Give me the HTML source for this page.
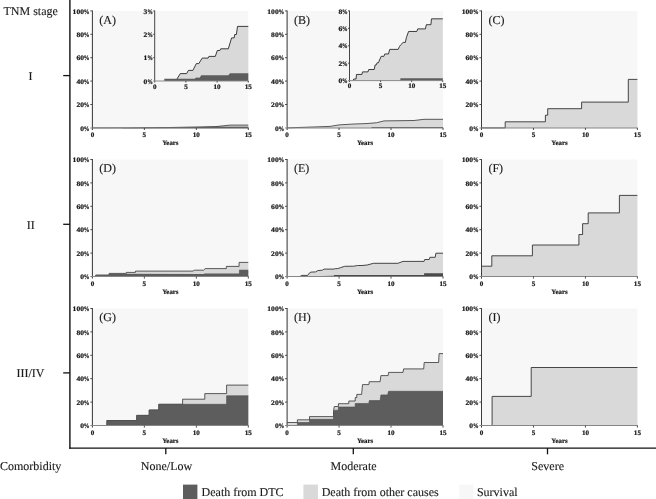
<!DOCTYPE html>
<html><head><meta charset="utf-8"><title>Cumulative incidence of death by TNM stage and comorbidity</title>
<style>
html,body{margin:0;padding:0;background:#fff;}
body{width:656px;height:499px;overflow:hidden;font-family:"Liberation Serif",serif;}
svg{display:block;filter:grayscale(1);}
text{font-family:"Liberation Serif",serif;fill:#1a1a1a;text-rendering:geometricPrecision;}
.t{font-size:6.9px;font-weight:bold;stroke:#1a1a1a;stroke-width:0.22px;}
.y{font-size:6.85px;font-weight:bold;stroke:#1a1a1a;stroke-width:0.2px;}
.p{font-size:12px;stroke:#1a1a1a;stroke-width:0.12px;}
.b{font-size:12px;stroke:#1a1a1a;stroke-width:0.12px;}
</style></head><body>
<svg width="656" height="499" viewBox="0 0 656 499">
<rect x="0" y="0" width="656" height="499" fill="#ffffff"/>
<rect x="92.40" y="10.90" width="155.90" height="117.00" fill="#f7f7f7"/>
<path d="M92.40,127.90 L130.40,127.85 L170.00,127.50 L216.00,126.60 L230.00,125.10 L248.30,125.10 L248.30,127.90 L92.40,127.90 Z" fill="#d9d9d9" stroke="none"/>
<path d="M92.40,127.90 L130.40,127.85 L170.00,127.50 L216.00,126.60 L230.00,125.10 L248.30,125.10" fill="none" stroke="#333" stroke-width="0.8" stroke-linejoin="miter"/>
<path d="M122.40,127.90 L170.00,127.40 L216.00,126.70 L248.30,126.70 L248.30,128.20 L122.40,128.20 Z" fill="#3a3a3a" stroke="none"/>
<line x1="92.40" y1="10.50" x2="92.40" y2="130.00" stroke="#3c3c3c" stroke-width="1.05"/>
<line x1="90.30" y1="127.90" x2="248.60" y2="127.90" stroke="#868686" stroke-width="1.05"/>
<text transform="translate(89.50,130.50) scale(0.82,1)" text-anchor="end" class="t">%</text>
<text transform="translate(83.99,130.50) scale(1.1,1)" text-anchor="end" class="t">0</text>
<line x1="90.30" y1="104.50" x2="92.40" y2="104.50" stroke="#3c3c3c" stroke-width="0.9"/>
<text transform="translate(89.50,107.10) scale(0.82,1)" text-anchor="end" class="t">%</text>
<text transform="translate(83.99,107.10) scale(1.1,1)" text-anchor="end" class="t">20</text>
<line x1="90.30" y1="81.10" x2="92.40" y2="81.10" stroke="#3c3c3c" stroke-width="0.9"/>
<text transform="translate(89.50,83.70) scale(0.82,1)" text-anchor="end" class="t">%</text>
<text transform="translate(83.99,83.70) scale(1.1,1)" text-anchor="end" class="t">40</text>
<line x1="90.30" y1="57.70" x2="92.40" y2="57.70" stroke="#3c3c3c" stroke-width="0.9"/>
<text transform="translate(89.50,60.30) scale(0.82,1)" text-anchor="end" class="t">%</text>
<text transform="translate(83.99,60.30) scale(1.1,1)" text-anchor="end" class="t">60</text>
<line x1="90.30" y1="34.30" x2="92.40" y2="34.30" stroke="#3c3c3c" stroke-width="0.9"/>
<text transform="translate(89.50,36.90) scale(0.82,1)" text-anchor="end" class="t">%</text>
<text transform="translate(83.99,36.90) scale(1.1,1)" text-anchor="end" class="t">80</text>
<line x1="90.30" y1="10.90" x2="92.40" y2="10.90" stroke="#3c3c3c" stroke-width="0.9"/>
<text transform="translate(89.50,13.50) scale(0.82,1)" text-anchor="end" class="t">%</text>
<text transform="translate(83.99,13.50) scale(1.1,1)" text-anchor="end" class="t">100</text>
<text transform="translate(92.40,137.00) scale(1.03,1)" text-anchor="middle" class="t">0</text>
<line x1="144.37" y1="127.90" x2="144.37" y2="130.00" stroke="#3c3c3c" stroke-width="0.9"/>
<text transform="translate(144.37,137.00) scale(1.03,1)" text-anchor="middle" class="t">5</text>
<line x1="196.33" y1="127.90" x2="196.33" y2="130.00" stroke="#3c3c3c" stroke-width="0.9"/>
<text transform="translate(196.33,137.00) scale(1.03,1)" text-anchor="middle" class="t">10</text>
<line x1="248.30" y1="127.90" x2="248.30" y2="130.00" stroke="#3c3c3c" stroke-width="0.9"/>
<text transform="translate(248.30,137.00) scale(1.03,1)" text-anchor="middle" class="t">15</text>
<text x="170.35" y="145.25" text-anchor="middle" class="y">Years</text>
<text x="99.30" y="23.70" class="p">(A)</text>
<path d="M176.90,81.00 L176.90,79.10 L180.30,73.60 L186.70,73.60 L188.40,70.40 L192.90,70.40 L196.30,63.60 L198.80,63.60 L202.20,58.10 L208.10,58.10 L208.90,56.40 L215.30,56.40 L217.30,50.50 L219.90,50.50 L220.70,48.80 L228.30,48.80 L231.60,37.90 L234.20,37.90 L234.70,34.50 L236.40,34.50 L237.50,26.40 L248.30,26.40 L248.30,81.00 L176.90,81.00 Z" fill="#d9d9d9" stroke="none"/>
<path d="M176.90,81.00 L176.90,79.10 L180.30,73.60 L186.70,73.60 L188.40,70.40 L192.90,70.40 L196.30,63.60 L198.80,63.60 L202.20,58.10 L208.10,58.10 L208.90,56.40 L215.30,56.40 L217.30,50.50 L219.90,50.50 L220.70,48.80 L228.30,48.80 L231.60,37.90 L234.20,37.90 L234.70,34.50 L236.40,34.50 L237.50,26.40 L248.30,26.40" fill="none" stroke="#333" stroke-width="0.95" stroke-linejoin="miter"/>
<path d="M164.30,81.00 L164.30,78.70 L194.60,78.70 L196.30,77.50 L199.50,77.80 L201.30,75.30 L228.30,75.30 L230.00,73.20 L248.30,73.20 L248.30,81.00 L164.30,81.00 Z" fill="#5d5d5d" stroke="none"/>
<line x1="154.70" y1="10.50" x2="154.70" y2="82.50" stroke="#3c3c3c" stroke-width="0.95"/>
<line x1="153.20" y1="81.00" x2="248.60" y2="81.00" stroke="#868686" stroke-width="0.95"/>
<text transform="translate(152.90,83.60) scale(0.82,1)" text-anchor="end" class="t">%</text>
<text transform="translate(147.39,83.60) scale(1.1,1)" text-anchor="end" class="t">0</text>
<line x1="153.20" y1="57.63" x2="154.70" y2="57.63" stroke="#3c3c3c" stroke-width="0.9"/>
<text transform="translate(152.90,60.23) scale(0.82,1)" text-anchor="end" class="t">%</text>
<text transform="translate(147.39,60.23) scale(1.1,1)" text-anchor="end" class="t">1</text>
<line x1="153.20" y1="34.27" x2="154.70" y2="34.27" stroke="#3c3c3c" stroke-width="0.9"/>
<text transform="translate(152.90,36.87) scale(0.82,1)" text-anchor="end" class="t">%</text>
<text transform="translate(147.39,36.87) scale(1.1,1)" text-anchor="end" class="t">2</text>
<line x1="153.20" y1="10.90" x2="154.70" y2="10.90" stroke="#3c3c3c" stroke-width="0.9"/>
<text transform="translate(152.90,13.50) scale(0.82,1)" text-anchor="end" class="t">%</text>
<text transform="translate(147.39,13.50) scale(1.1,1)" text-anchor="end" class="t">3</text>
<text transform="translate(154.70,88.70) scale(1.03,1)" text-anchor="middle" class="t">0</text>
<line x1="185.90" y1="81.00" x2="185.90" y2="82.50" stroke="#3c3c3c" stroke-width="0.9"/>
<text transform="translate(185.90,88.70) scale(1.03,1)" text-anchor="middle" class="t">5</text>
<line x1="217.10" y1="81.00" x2="217.10" y2="82.50" stroke="#3c3c3c" stroke-width="0.9"/>
<text transform="translate(217.10,88.70) scale(1.03,1)" text-anchor="middle" class="t">10</text>
<line x1="248.30" y1="81.00" x2="248.30" y2="82.50" stroke="#3c3c3c" stroke-width="0.9"/>
<text transform="translate(248.30,88.70) scale(1.03,1)" text-anchor="middle" class="t">15</text>
<rect x="287.10" y="10.90" width="155.90" height="117.00" fill="#f7f7f7"/>
<path d="M287.10,127.90 L330.00,126.40 L339.00,124.90 L354.00,124.00 L366.00,123.60 L376.50,122.75 L384.00,120.90 L414.00,120.50 L424.00,119.30 L443.00,119.30 L443.00,127.90 L287.10,127.90 Z" fill="#d9d9d9" stroke="none"/>
<path d="M287.10,127.90 L330.00,126.40 L339.00,124.90 L354.00,124.00 L366.00,123.60 L376.50,122.75 L384.00,120.90 L414.00,120.50 L424.00,119.30 L443.00,119.30" fill="none" stroke="#333" stroke-width="0.8" stroke-linejoin="miter"/>
<path d="M371.50,127.00 L443.00,126.90 L443.00,127.90 L371.50,127.90 Z" fill="#5d5d5d" stroke="none"/>
<line x1="287.10" y1="10.50" x2="287.10" y2="130.00" stroke="#3c3c3c" stroke-width="1.05"/>
<line x1="285.00" y1="127.90" x2="443.30" y2="127.90" stroke="#868686" stroke-width="1.05"/>
<text transform="translate(284.20,130.50) scale(0.82,1)" text-anchor="end" class="t">%</text>
<text transform="translate(278.69,130.50) scale(1.1,1)" text-anchor="end" class="t">0</text>
<line x1="285.00" y1="104.50" x2="287.10" y2="104.50" stroke="#3c3c3c" stroke-width="0.9"/>
<text transform="translate(284.20,107.10) scale(0.82,1)" text-anchor="end" class="t">%</text>
<text transform="translate(278.69,107.10) scale(1.1,1)" text-anchor="end" class="t">20</text>
<line x1="285.00" y1="81.10" x2="287.10" y2="81.10" stroke="#3c3c3c" stroke-width="0.9"/>
<text transform="translate(284.20,83.70) scale(0.82,1)" text-anchor="end" class="t">%</text>
<text transform="translate(278.69,83.70) scale(1.1,1)" text-anchor="end" class="t">40</text>
<line x1="285.00" y1="57.70" x2="287.10" y2="57.70" stroke="#3c3c3c" stroke-width="0.9"/>
<text transform="translate(284.20,60.30) scale(0.82,1)" text-anchor="end" class="t">%</text>
<text transform="translate(278.69,60.30) scale(1.1,1)" text-anchor="end" class="t">60</text>
<line x1="285.00" y1="34.30" x2="287.10" y2="34.30" stroke="#3c3c3c" stroke-width="0.9"/>
<text transform="translate(284.20,36.90) scale(0.82,1)" text-anchor="end" class="t">%</text>
<text transform="translate(278.69,36.90) scale(1.1,1)" text-anchor="end" class="t">80</text>
<line x1="285.00" y1="10.90" x2="287.10" y2="10.90" stroke="#3c3c3c" stroke-width="0.9"/>
<text transform="translate(284.20,13.50) scale(0.82,1)" text-anchor="end" class="t">%</text>
<text transform="translate(278.69,13.50) scale(1.1,1)" text-anchor="end" class="t">100</text>
<text transform="translate(287.10,137.00) scale(1.03,1)" text-anchor="middle" class="t">0</text>
<line x1="339.07" y1="127.90" x2="339.07" y2="130.00" stroke="#3c3c3c" stroke-width="0.9"/>
<text transform="translate(339.07,137.00) scale(1.03,1)" text-anchor="middle" class="t">5</text>
<line x1="391.03" y1="127.90" x2="391.03" y2="130.00" stroke="#3c3c3c" stroke-width="0.9"/>
<text transform="translate(391.03,137.00) scale(1.03,1)" text-anchor="middle" class="t">10</text>
<line x1="443.00" y1="127.90" x2="443.00" y2="130.00" stroke="#3c3c3c" stroke-width="0.9"/>
<text transform="translate(443.00,137.00) scale(1.03,1)" text-anchor="middle" class="t">15</text>
<text x="365.05" y="145.25" text-anchor="middle" class="y">Years</text>
<text x="294.00" y="23.70" class="p">(B)</text>
<path d="M353.17,80.48 L353.72,79.02 L356.10,79.02 L356.46,74.45 L361.95,74.45 L362.50,71.89 L367.99,71.89 L368.72,69.51 L374.21,69.51 L375.12,64.94 L376.22,64.94 L377.13,62.74 L378.41,62.74 L381.16,56.34 L383.90,56.34 L384.81,53.96 L388.47,53.96 L389.75,49.39 L398.17,49.39 L399.45,46.64 L400.73,44.81 L403.11,42.44 L405.30,42.44 L406.40,37.50 L408.59,31.46 L416.82,31.46 L417.74,28.90 L425.42,28.90 L426.34,24.69 L430.91,24.69 L431.46,18.84 L442.80,18.84 L442.80,80.60 L353.17,80.60 Z" fill="#d9d9d9" stroke="none"/>
<path d="M353.17,80.48 L353.72,79.02 L356.10,79.02 L356.46,74.45 L361.95,74.45 L362.50,71.89 L367.99,71.89 L368.72,69.51 L374.21,69.51 L375.12,64.94 L376.22,64.94 L377.13,62.74 L378.41,62.74 L381.16,56.34 L383.90,56.34 L384.81,53.96 L388.47,53.96 L389.75,49.39 L398.17,49.39 L399.45,46.64 L400.73,44.81 L403.11,42.44 L405.30,42.44 L406.40,37.50 L408.59,31.46 L416.82,31.46 L417.74,28.90 L425.42,28.90 L426.34,24.69 L430.91,24.69 L431.46,18.84 L442.80,18.84" fill="none" stroke="#333" stroke-width="0.95" stroke-linejoin="miter"/>
<path d="M400.36,80.67 L400.36,78.20 L442.80,78.20 L442.80,80.60 L400.36,80.60 Z" fill="#5d5d5d" stroke="none"/>
<line x1="349.50" y1="10.50" x2="349.50" y2="82.10" stroke="#3c3c3c" stroke-width="0.95"/>
<line x1="348.00" y1="80.60" x2="443.10" y2="80.60" stroke="#868686" stroke-width="0.95"/>
<text transform="translate(347.70,83.20) scale(0.82,1)" text-anchor="end" class="t">%</text>
<text transform="translate(342.19,83.20) scale(1.1,1)" text-anchor="end" class="t">0</text>
<line x1="348.00" y1="63.17" x2="349.50" y2="63.17" stroke="#3c3c3c" stroke-width="0.9"/>
<text transform="translate(347.70,65.77) scale(0.82,1)" text-anchor="end" class="t">%</text>
<text transform="translate(342.19,65.77) scale(1.1,1)" text-anchor="end" class="t">2</text>
<line x1="348.00" y1="45.75" x2="349.50" y2="45.75" stroke="#3c3c3c" stroke-width="0.9"/>
<text transform="translate(347.70,48.35) scale(0.82,1)" text-anchor="end" class="t">%</text>
<text transform="translate(342.19,48.35) scale(1.1,1)" text-anchor="end" class="t">4</text>
<line x1="348.00" y1="28.33" x2="349.50" y2="28.33" stroke="#3c3c3c" stroke-width="0.9"/>
<text transform="translate(347.70,30.93) scale(0.82,1)" text-anchor="end" class="t">%</text>
<text transform="translate(342.19,30.93) scale(1.1,1)" text-anchor="end" class="t">6</text>
<line x1="348.00" y1="10.90" x2="349.50" y2="10.90" stroke="#3c3c3c" stroke-width="0.9"/>
<text transform="translate(347.70,13.50) scale(0.82,1)" text-anchor="end" class="t">%</text>
<text transform="translate(342.19,13.50) scale(1.1,1)" text-anchor="end" class="t">8</text>
<text transform="translate(349.50,88.30) scale(1.03,1)" text-anchor="middle" class="t">0</text>
<line x1="380.60" y1="80.60" x2="380.60" y2="82.10" stroke="#3c3c3c" stroke-width="0.9"/>
<text transform="translate(380.60,88.30) scale(1.03,1)" text-anchor="middle" class="t">5</text>
<line x1="411.70" y1="80.60" x2="411.70" y2="82.10" stroke="#3c3c3c" stroke-width="0.9"/>
<text transform="translate(411.70,88.30) scale(1.03,1)" text-anchor="middle" class="t">10</text>
<line x1="442.80" y1="80.60" x2="442.80" y2="82.10" stroke="#3c3c3c" stroke-width="0.9"/>
<text transform="translate(442.80,88.30) scale(1.03,1)" text-anchor="middle" class="t">15</text>
<rect x="481.50" y="10.90" width="155.90" height="117.00" fill="#f7f7f7"/>
<path d="M481.50,127.90 L505.20,127.90 L505.20,121.80 L545.40,121.80 L545.40,115.20 L547.70,115.20 L547.70,108.70 L581.60,108.70 L581.60,102.10 L628.30,102.10 L628.30,79.40 L637.40,79.40 L637.40,127.90 L481.50,127.90 Z" fill="#d9d9d9" stroke="none"/>
<path d="M481.50,127.90 L505.20,127.90 L505.20,121.80 L545.40,121.80 L545.40,115.20 L547.70,115.20 L547.70,108.70 L581.60,108.70 L581.60,102.10 L628.30,102.10 L628.30,79.40 L637.40,79.40" fill="none" stroke="#333" stroke-width="0.9" stroke-linejoin="miter"/>
<line x1="481.50" y1="10.50" x2="481.50" y2="130.00" stroke="#3c3c3c" stroke-width="1.05"/>
<line x1="479.40" y1="127.90" x2="637.70" y2="127.90" stroke="#868686" stroke-width="1.05"/>
<text transform="translate(478.60,130.50) scale(0.82,1)" text-anchor="end" class="t">%</text>
<text transform="translate(473.09,130.50) scale(1.1,1)" text-anchor="end" class="t">0</text>
<line x1="479.40" y1="104.50" x2="481.50" y2="104.50" stroke="#3c3c3c" stroke-width="0.9"/>
<text transform="translate(478.60,107.10) scale(0.82,1)" text-anchor="end" class="t">%</text>
<text transform="translate(473.09,107.10) scale(1.1,1)" text-anchor="end" class="t">20</text>
<line x1="479.40" y1="81.10" x2="481.50" y2="81.10" stroke="#3c3c3c" stroke-width="0.9"/>
<text transform="translate(478.60,83.70) scale(0.82,1)" text-anchor="end" class="t">%</text>
<text transform="translate(473.09,83.70) scale(1.1,1)" text-anchor="end" class="t">40</text>
<line x1="479.40" y1="57.70" x2="481.50" y2="57.70" stroke="#3c3c3c" stroke-width="0.9"/>
<text transform="translate(478.60,60.30) scale(0.82,1)" text-anchor="end" class="t">%</text>
<text transform="translate(473.09,60.30) scale(1.1,1)" text-anchor="end" class="t">60</text>
<line x1="479.40" y1="34.30" x2="481.50" y2="34.30" stroke="#3c3c3c" stroke-width="0.9"/>
<text transform="translate(478.60,36.90) scale(0.82,1)" text-anchor="end" class="t">%</text>
<text transform="translate(473.09,36.90) scale(1.1,1)" text-anchor="end" class="t">80</text>
<line x1="479.40" y1="10.90" x2="481.50" y2="10.90" stroke="#3c3c3c" stroke-width="0.9"/>
<text transform="translate(478.60,13.50) scale(0.82,1)" text-anchor="end" class="t">%</text>
<text transform="translate(473.09,13.50) scale(1.1,1)" text-anchor="end" class="t">100</text>
<text transform="translate(481.50,137.00) scale(1.03,1)" text-anchor="middle" class="t">0</text>
<line x1="533.47" y1="127.90" x2="533.47" y2="130.00" stroke="#3c3c3c" stroke-width="0.9"/>
<text transform="translate(533.47,137.00) scale(1.03,1)" text-anchor="middle" class="t">5</text>
<line x1="585.43" y1="127.90" x2="585.43" y2="130.00" stroke="#3c3c3c" stroke-width="0.9"/>
<text transform="translate(585.43,137.00) scale(1.03,1)" text-anchor="middle" class="t">10</text>
<line x1="637.40" y1="127.90" x2="637.40" y2="130.00" stroke="#3c3c3c" stroke-width="0.9"/>
<text transform="translate(637.40,137.00) scale(1.03,1)" text-anchor="middle" class="t">15</text>
<text x="559.45" y="145.25" text-anchor="middle" class="y">Years</text>
<text x="488.40" y="23.70" class="p">(C)</text>
<rect x="92.40" y="159.50" width="155.90" height="117.00" fill="#f7f7f7"/>
<path d="M95.70,276.50 L95.70,275.00 L109.10,275.00 L109.10,273.40 L126.40,273.40 L126.40,272.40 L135.40,272.40 L135.40,271.10 L193.00,271.10 L194.30,270.20 L203.50,270.20 L205.20,268.60 L226.30,268.60 L226.30,266.40 L239.10,266.40 L239.10,262.40 L248.30,262.40 L248.30,276.50 L95.70,276.50 Z" fill="#d9d9d9" stroke="none"/>
<path d="M95.70,276.50 L95.70,275.00 L109.10,275.00 L109.10,273.40 L126.40,273.40 L126.40,272.40 L135.40,272.40 L135.40,271.10 L193.00,271.10 L194.30,270.20 L203.50,270.20 L205.20,268.60 L226.30,268.60 L226.30,266.40 L239.10,266.40 L239.10,262.40 L248.30,262.40" fill="none" stroke="#333" stroke-width="0.8" stroke-linejoin="miter"/>
<path d="M95.70,276.50 L95.70,275.00 L109.10,275.00 L109.10,273.70 L203.90,273.90 L204.60,273.40 L239.10,273.40 L239.10,269.80 L248.30,269.80 L248.30,276.50 L95.70,276.50 Z" fill="#5d5d5d" stroke="none"/>
<line x1="92.40" y1="159.10" x2="92.40" y2="278.60" stroke="#3c3c3c" stroke-width="1.05"/>
<line x1="90.30" y1="276.50" x2="248.60" y2="276.50" stroke="#868686" stroke-width="1.05"/>
<text transform="translate(89.50,279.10) scale(0.82,1)" text-anchor="end" class="t">%</text>
<text transform="translate(83.99,279.10) scale(1.1,1)" text-anchor="end" class="t">0</text>
<line x1="90.30" y1="253.10" x2="92.40" y2="253.10" stroke="#3c3c3c" stroke-width="0.9"/>
<text transform="translate(89.50,255.70) scale(0.82,1)" text-anchor="end" class="t">%</text>
<text transform="translate(83.99,255.70) scale(1.1,1)" text-anchor="end" class="t">20</text>
<line x1="90.30" y1="229.70" x2="92.40" y2="229.70" stroke="#3c3c3c" stroke-width="0.9"/>
<text transform="translate(89.50,232.30) scale(0.82,1)" text-anchor="end" class="t">%</text>
<text transform="translate(83.99,232.30) scale(1.1,1)" text-anchor="end" class="t">40</text>
<line x1="90.30" y1="206.30" x2="92.40" y2="206.30" stroke="#3c3c3c" stroke-width="0.9"/>
<text transform="translate(89.50,208.90) scale(0.82,1)" text-anchor="end" class="t">%</text>
<text transform="translate(83.99,208.90) scale(1.1,1)" text-anchor="end" class="t">60</text>
<line x1="90.30" y1="182.90" x2="92.40" y2="182.90" stroke="#3c3c3c" stroke-width="0.9"/>
<text transform="translate(89.50,185.50) scale(0.82,1)" text-anchor="end" class="t">%</text>
<text transform="translate(83.99,185.50) scale(1.1,1)" text-anchor="end" class="t">80</text>
<line x1="90.30" y1="159.50" x2="92.40" y2="159.50" stroke="#3c3c3c" stroke-width="0.9"/>
<text transform="translate(89.50,162.10) scale(0.82,1)" text-anchor="end" class="t">%</text>
<text transform="translate(83.99,162.10) scale(1.1,1)" text-anchor="end" class="t">100</text>
<text transform="translate(92.40,285.60) scale(1.03,1)" text-anchor="middle" class="t">0</text>
<line x1="144.37" y1="276.50" x2="144.37" y2="278.60" stroke="#3c3c3c" stroke-width="0.9"/>
<text transform="translate(144.37,285.60) scale(1.03,1)" text-anchor="middle" class="t">5</text>
<line x1="196.33" y1="276.50" x2="196.33" y2="278.60" stroke="#3c3c3c" stroke-width="0.9"/>
<text transform="translate(196.33,285.60) scale(1.03,1)" text-anchor="middle" class="t">10</text>
<line x1="248.30" y1="276.50" x2="248.30" y2="278.60" stroke="#3c3c3c" stroke-width="0.9"/>
<text transform="translate(248.30,285.60) scale(1.03,1)" text-anchor="middle" class="t">15</text>
<text x="170.35" y="293.85" text-anchor="middle" class="y">Years</text>
<text x="99.30" y="172.30" class="p">(D)</text>
<rect x="287.10" y="159.50" width="155.90" height="117.00" fill="#f7f7f7"/>
<path d="M299.90,276.50 L301.90,275.40 L307.60,275.40 L309.50,272.90 L311.00,272.10 L315.60,271.90 L317.90,270.60 L322.40,270.20 L324.00,269.10 L333.90,269.10 L335.40,268.60 L337.70,268.60 L340.70,267.60 L344.70,266.30 L353.70,266.20 L357.50,265.50 L362.00,265.50 L367.10,265.00 L373.50,263.30 L397.90,263.30 L403.00,261.40 L424.10,261.40 L424.70,259.50 L429.20,259.50 L429.90,257.30 L435.20,257.30 L435.90,253.20 L443.00,253.20 L443.00,276.50 L299.90,276.50 Z" fill="#d9d9d9" stroke="none"/>
<path d="M299.90,276.50 L301.90,275.40 L307.60,275.40 L309.50,272.90 L311.00,272.10 L315.60,271.90 L317.90,270.60 L322.40,270.20 L324.00,269.10 L333.90,269.10 L335.40,268.60 L337.70,268.60 L340.70,267.60 L344.70,266.30 L353.70,266.20 L357.50,265.50 L362.00,265.50 L367.10,265.00 L373.50,263.30 L397.90,263.30 L403.00,261.40 L424.10,261.40 L424.70,259.50 L429.20,259.50 L429.90,257.30 L435.20,257.30 L435.90,253.20 L443.00,253.20" fill="none" stroke="#333" stroke-width="0.9" stroke-linejoin="miter"/>
<path d="M322.40,276.50 L322.40,276.00 L333.90,275.80 L333.90,275.10 L424.10,275.10 L424.10,273.30 L443.00,273.30 L443.00,276.90 L322.40,276.90 Z" fill="#4a4a4a" stroke="none"/>
<line x1="287.10" y1="159.10" x2="287.10" y2="278.60" stroke="#3c3c3c" stroke-width="1.05"/>
<line x1="285.00" y1="276.50" x2="443.30" y2="276.50" stroke="#868686" stroke-width="1.05"/>
<text transform="translate(284.20,279.10) scale(0.82,1)" text-anchor="end" class="t">%</text>
<text transform="translate(278.69,279.10) scale(1.1,1)" text-anchor="end" class="t">0</text>
<line x1="285.00" y1="253.10" x2="287.10" y2="253.10" stroke="#3c3c3c" stroke-width="0.9"/>
<text transform="translate(284.20,255.70) scale(0.82,1)" text-anchor="end" class="t">%</text>
<text transform="translate(278.69,255.70) scale(1.1,1)" text-anchor="end" class="t">20</text>
<line x1="285.00" y1="229.70" x2="287.10" y2="229.70" stroke="#3c3c3c" stroke-width="0.9"/>
<text transform="translate(284.20,232.30) scale(0.82,1)" text-anchor="end" class="t">%</text>
<text transform="translate(278.69,232.30) scale(1.1,1)" text-anchor="end" class="t">40</text>
<line x1="285.00" y1="206.30" x2="287.10" y2="206.30" stroke="#3c3c3c" stroke-width="0.9"/>
<text transform="translate(284.20,208.90) scale(0.82,1)" text-anchor="end" class="t">%</text>
<text transform="translate(278.69,208.90) scale(1.1,1)" text-anchor="end" class="t">60</text>
<line x1="285.00" y1="182.90" x2="287.10" y2="182.90" stroke="#3c3c3c" stroke-width="0.9"/>
<text transform="translate(284.20,185.50) scale(0.82,1)" text-anchor="end" class="t">%</text>
<text transform="translate(278.69,185.50) scale(1.1,1)" text-anchor="end" class="t">80</text>
<line x1="285.00" y1="159.50" x2="287.10" y2="159.50" stroke="#3c3c3c" stroke-width="0.9"/>
<text transform="translate(284.20,162.10) scale(0.82,1)" text-anchor="end" class="t">%</text>
<text transform="translate(278.69,162.10) scale(1.1,1)" text-anchor="end" class="t">100</text>
<text transform="translate(287.10,285.60) scale(1.03,1)" text-anchor="middle" class="t">0</text>
<line x1="339.07" y1="276.50" x2="339.07" y2="278.60" stroke="#3c3c3c" stroke-width="0.9"/>
<text transform="translate(339.07,285.60) scale(1.03,1)" text-anchor="middle" class="t">5</text>
<line x1="391.03" y1="276.50" x2="391.03" y2="278.60" stroke="#3c3c3c" stroke-width="0.9"/>
<text transform="translate(391.03,285.60) scale(1.03,1)" text-anchor="middle" class="t">10</text>
<line x1="443.00" y1="276.50" x2="443.00" y2="278.60" stroke="#3c3c3c" stroke-width="0.9"/>
<text transform="translate(443.00,285.60) scale(1.03,1)" text-anchor="middle" class="t">15</text>
<text x="365.05" y="293.85" text-anchor="middle" class="y">Years</text>
<text x="294.00" y="172.30" class="p">(E)</text>
<rect x="481.50" y="159.50" width="155.90" height="117.00" fill="#f7f7f7"/>
<path d="M481.50,266.20 L491.80,266.20 L491.80,255.80 L532.40,255.80 L532.40,245.00 L578.90,245.00 L578.90,234.50 L582.60,234.50 L582.60,223.70 L588.20,223.70 L588.20,212.90 L619.40,212.90 L619.40,195.40 L637.40,195.40 L637.40,276.50 L481.50,276.50 Z" fill="#d9d9d9" stroke="none"/>
<path d="M481.50,266.20 L491.80,266.20 L491.80,255.80 L532.40,255.80 L532.40,245.00 L578.90,245.00 L578.90,234.50 L582.60,234.50 L582.60,223.70 L588.20,223.70 L588.20,212.90 L619.40,212.90 L619.40,195.40 L637.40,195.40" fill="none" stroke="#333" stroke-width="0.9" stroke-linejoin="miter"/>
<line x1="481.50" y1="159.10" x2="481.50" y2="278.60" stroke="#3c3c3c" stroke-width="1.05"/>
<line x1="479.40" y1="276.50" x2="637.70" y2="276.50" stroke="#868686" stroke-width="1.05"/>
<text transform="translate(478.60,279.10) scale(0.82,1)" text-anchor="end" class="t">%</text>
<text transform="translate(473.09,279.10) scale(1.1,1)" text-anchor="end" class="t">0</text>
<line x1="479.40" y1="253.10" x2="481.50" y2="253.10" stroke="#3c3c3c" stroke-width="0.9"/>
<text transform="translate(478.60,255.70) scale(0.82,1)" text-anchor="end" class="t">%</text>
<text transform="translate(473.09,255.70) scale(1.1,1)" text-anchor="end" class="t">20</text>
<line x1="479.40" y1="229.70" x2="481.50" y2="229.70" stroke="#3c3c3c" stroke-width="0.9"/>
<text transform="translate(478.60,232.30) scale(0.82,1)" text-anchor="end" class="t">%</text>
<text transform="translate(473.09,232.30) scale(1.1,1)" text-anchor="end" class="t">40</text>
<line x1="479.40" y1="206.30" x2="481.50" y2="206.30" stroke="#3c3c3c" stroke-width="0.9"/>
<text transform="translate(478.60,208.90) scale(0.82,1)" text-anchor="end" class="t">%</text>
<text transform="translate(473.09,208.90) scale(1.1,1)" text-anchor="end" class="t">60</text>
<line x1="479.40" y1="182.90" x2="481.50" y2="182.90" stroke="#3c3c3c" stroke-width="0.9"/>
<text transform="translate(478.60,185.50) scale(0.82,1)" text-anchor="end" class="t">%</text>
<text transform="translate(473.09,185.50) scale(1.1,1)" text-anchor="end" class="t">80</text>
<line x1="479.40" y1="159.50" x2="481.50" y2="159.50" stroke="#3c3c3c" stroke-width="0.9"/>
<text transform="translate(478.60,162.10) scale(0.82,1)" text-anchor="end" class="t">%</text>
<text transform="translate(473.09,162.10) scale(1.1,1)" text-anchor="end" class="t">100</text>
<text transform="translate(481.50,285.60) scale(1.03,1)" text-anchor="middle" class="t">0</text>
<line x1="533.47" y1="276.50" x2="533.47" y2="278.60" stroke="#3c3c3c" stroke-width="0.9"/>
<text transform="translate(533.47,285.60) scale(1.03,1)" text-anchor="middle" class="t">5</text>
<line x1="585.43" y1="276.50" x2="585.43" y2="278.60" stroke="#3c3c3c" stroke-width="0.9"/>
<text transform="translate(585.43,285.60) scale(1.03,1)" text-anchor="middle" class="t">10</text>
<line x1="637.40" y1="276.50" x2="637.40" y2="278.60" stroke="#3c3c3c" stroke-width="0.9"/>
<text transform="translate(637.40,285.60) scale(1.03,1)" text-anchor="middle" class="t">15</text>
<text x="559.45" y="293.85" text-anchor="middle" class="y">Years</text>
<text x="488.40" y="172.30" class="p">(F)</text>
<rect x="92.40" y="308.50" width="155.90" height="117.00" fill="#f7f7f7"/>
<path d="M92.40,425.50 L106.90,425.50 L106.90,420.50 L136.70,420.50 L136.70,415.40 L149.20,415.40 L149.20,410.00 L158.80,410.00 L158.80,404.30 L182.60,404.30 L182.60,399.20 L204.80,399.20 L204.80,393.60 L226.60,393.60 L226.60,385.10 L248.30,385.10 L248.30,425.50 L92.40,425.50 Z" fill="#d9d9d9" stroke="none"/>
<path d="M92.40,425.50 L106.90,425.50 L106.90,420.50 L136.70,420.50 L136.70,415.40 L149.20,415.40 L149.20,410.00 L158.80,410.00 L158.80,404.30 L182.60,404.30 L182.60,399.20 L204.80,399.20 L204.80,393.60 L226.60,393.60 L226.60,385.10 L248.30,385.10" fill="none" stroke="#333" stroke-width="0.8" stroke-linejoin="miter"/>
<path d="M106.90,425.50 L106.90,420.50 L136.70,420.50 L136.70,415.40 L149.20,415.40 L149.20,410.00 L158.80,410.00 L158.80,404.30 L226.60,404.30 L226.60,395.80 L248.30,395.80 L248.30,425.50 L106.90,425.50 Z" fill="#5d5d5d" stroke="none"/>
<path d="M106.90,425.50 L106.90,420.50 L136.70,420.50 L136.70,415.40 L149.20,415.40 L149.20,410.00 L158.80,410.00 L158.80,404.30 L226.60,404.30 L226.60,395.80 L248.30,395.80" fill="none" stroke="#4a4a4a" stroke-width="0.6" stroke-linejoin="miter"/>
<line x1="92.40" y1="308.10" x2="92.40" y2="427.60" stroke="#3c3c3c" stroke-width="1.05"/>
<line x1="90.30" y1="425.50" x2="248.60" y2="425.50" stroke="#868686" stroke-width="1.05"/>
<text transform="translate(89.50,428.10) scale(0.82,1)" text-anchor="end" class="t">%</text>
<text transform="translate(83.99,428.10) scale(1.1,1)" text-anchor="end" class="t">0</text>
<line x1="90.30" y1="402.10" x2="92.40" y2="402.10" stroke="#3c3c3c" stroke-width="0.9"/>
<text transform="translate(89.50,404.70) scale(0.82,1)" text-anchor="end" class="t">%</text>
<text transform="translate(83.99,404.70) scale(1.1,1)" text-anchor="end" class="t">20</text>
<line x1="90.30" y1="378.70" x2="92.40" y2="378.70" stroke="#3c3c3c" stroke-width="0.9"/>
<text transform="translate(89.50,381.30) scale(0.82,1)" text-anchor="end" class="t">%</text>
<text transform="translate(83.99,381.30) scale(1.1,1)" text-anchor="end" class="t">40</text>
<line x1="90.30" y1="355.30" x2="92.40" y2="355.30" stroke="#3c3c3c" stroke-width="0.9"/>
<text transform="translate(89.50,357.90) scale(0.82,1)" text-anchor="end" class="t">%</text>
<text transform="translate(83.99,357.90) scale(1.1,1)" text-anchor="end" class="t">60</text>
<line x1="90.30" y1="331.90" x2="92.40" y2="331.90" stroke="#3c3c3c" stroke-width="0.9"/>
<text transform="translate(89.50,334.50) scale(0.82,1)" text-anchor="end" class="t">%</text>
<text transform="translate(83.99,334.50) scale(1.1,1)" text-anchor="end" class="t">80</text>
<line x1="90.30" y1="308.50" x2="92.40" y2="308.50" stroke="#3c3c3c" stroke-width="0.9"/>
<text transform="translate(89.50,311.10) scale(0.82,1)" text-anchor="end" class="t">%</text>
<text transform="translate(83.99,311.10) scale(1.1,1)" text-anchor="end" class="t">100</text>
<text transform="translate(92.40,434.60) scale(1.03,1)" text-anchor="middle" class="t">0</text>
<line x1="144.37" y1="425.50" x2="144.37" y2="427.60" stroke="#3c3c3c" stroke-width="0.9"/>
<text transform="translate(144.37,434.60) scale(1.03,1)" text-anchor="middle" class="t">5</text>
<line x1="196.33" y1="425.50" x2="196.33" y2="427.60" stroke="#3c3c3c" stroke-width="0.9"/>
<text transform="translate(196.33,434.60) scale(1.03,1)" text-anchor="middle" class="t">10</text>
<line x1="248.30" y1="425.50" x2="248.30" y2="427.60" stroke="#3c3c3c" stroke-width="0.9"/>
<text transform="translate(248.30,434.60) scale(1.03,1)" text-anchor="middle" class="t">15</text>
<text x="170.35" y="442.85" text-anchor="middle" class="y">Years</text>
<text x="99.30" y="321.30" class="p">(G)</text>
<rect x="287.10" y="308.50" width="155.90" height="117.00" fill="#f7f7f7"/>
<path d="M287.10,422.50 L297.40,422.50 L297.40,419.80 L309.50,419.80 L309.50,416.60 L333.50,416.60 L333.50,411.00 L334.30,406.50 L338.40,406.50 L338.40,403.70 L348.80,403.70 L348.80,401.00 L355.20,401.00 L355.20,397.60 L356.80,397.60 L356.80,394.40 L361.60,394.40 L362.50,384.60 L368.80,384.60 L369.30,381.70 L380.10,381.70 L380.90,375.60 L388.10,375.60 L388.60,372.40 L403.00,372.40 L403.60,368.90 L423.70,368.90 L424.20,362.50 L438.60,362.50 L439.10,353.60 L443.00,353.60 L443.00,425.50 L287.10,425.50 Z" fill="#d9d9d9" stroke="none"/>
<path d="M287.10,422.50 L297.40,422.50 L297.40,419.80 L309.50,419.80 L309.50,416.60 L333.50,416.60 L333.50,411.00 L334.30,406.50 L338.40,406.50 L338.40,403.70 L348.80,403.70 L348.80,401.00 L355.20,401.00 L355.20,397.60 L356.80,397.60 L356.80,394.40 L361.60,394.40 L362.50,384.60 L368.80,384.60 L369.30,381.70 L380.10,381.70 L380.90,375.60 L388.10,375.60 L388.60,372.40 L403.00,372.40 L403.60,368.90 L423.70,368.90 L424.20,362.50 L438.60,362.50 L439.10,353.60 L443.00,353.60" fill="none" stroke="#333" stroke-width="0.8" stroke-linejoin="miter"/>
<path d="M297.40,425.50 L297.40,422.50 L309.50,422.50 L309.50,419.30 L333.50,419.30 L333.50,413.40 L334.60,410.20 L338.40,410.20 L338.40,407.00 L355.20,407.00 L355.20,403.60 L368.80,403.40 L369.30,400.60 L380.10,400.60 L380.90,394.90 L387.60,394.90 L388.60,391.30 L443.00,391.30 L443.00,425.50 L297.40,425.50 Z" fill="#5d5d5d" stroke="none"/>
<path d="M297.40,425.50 L297.40,422.50 L309.50,422.50 L309.50,419.30 L333.50,419.30 L333.50,413.40 L334.60,410.20 L338.40,410.20 L338.40,407.00 L355.20,407.00 L355.20,403.60 L368.80,403.40 L369.30,400.60 L380.10,400.60 L380.90,394.90 L387.60,394.90 L388.60,391.30 L443.00,391.30" fill="none" stroke="#4a4a4a" stroke-width="0.6" stroke-linejoin="miter"/>
<line x1="287.10" y1="308.10" x2="287.10" y2="427.60" stroke="#3c3c3c" stroke-width="1.05"/>
<line x1="285.00" y1="425.50" x2="443.30" y2="425.50" stroke="#868686" stroke-width="1.05"/>
<text transform="translate(284.20,428.10) scale(0.82,1)" text-anchor="end" class="t">%</text>
<text transform="translate(278.69,428.10) scale(1.1,1)" text-anchor="end" class="t">0</text>
<line x1="285.00" y1="402.10" x2="287.10" y2="402.10" stroke="#3c3c3c" stroke-width="0.9"/>
<text transform="translate(284.20,404.70) scale(0.82,1)" text-anchor="end" class="t">%</text>
<text transform="translate(278.69,404.70) scale(1.1,1)" text-anchor="end" class="t">20</text>
<line x1="285.00" y1="378.70" x2="287.10" y2="378.70" stroke="#3c3c3c" stroke-width="0.9"/>
<text transform="translate(284.20,381.30) scale(0.82,1)" text-anchor="end" class="t">%</text>
<text transform="translate(278.69,381.30) scale(1.1,1)" text-anchor="end" class="t">40</text>
<line x1="285.00" y1="355.30" x2="287.10" y2="355.30" stroke="#3c3c3c" stroke-width="0.9"/>
<text transform="translate(284.20,357.90) scale(0.82,1)" text-anchor="end" class="t">%</text>
<text transform="translate(278.69,357.90) scale(1.1,1)" text-anchor="end" class="t">60</text>
<line x1="285.00" y1="331.90" x2="287.10" y2="331.90" stroke="#3c3c3c" stroke-width="0.9"/>
<text transform="translate(284.20,334.50) scale(0.82,1)" text-anchor="end" class="t">%</text>
<text transform="translate(278.69,334.50) scale(1.1,1)" text-anchor="end" class="t">80</text>
<line x1="285.00" y1="308.50" x2="287.10" y2="308.50" stroke="#3c3c3c" stroke-width="0.9"/>
<text transform="translate(284.20,311.10) scale(0.82,1)" text-anchor="end" class="t">%</text>
<text transform="translate(278.69,311.10) scale(1.1,1)" text-anchor="end" class="t">100</text>
<text transform="translate(287.10,434.60) scale(1.03,1)" text-anchor="middle" class="t">0</text>
<line x1="339.07" y1="425.50" x2="339.07" y2="427.60" stroke="#3c3c3c" stroke-width="0.9"/>
<text transform="translate(339.07,434.60) scale(1.03,1)" text-anchor="middle" class="t">5</text>
<line x1="391.03" y1="425.50" x2="391.03" y2="427.60" stroke="#3c3c3c" stroke-width="0.9"/>
<text transform="translate(391.03,434.60) scale(1.03,1)" text-anchor="middle" class="t">10</text>
<line x1="443.00" y1="425.50" x2="443.00" y2="427.60" stroke="#3c3c3c" stroke-width="0.9"/>
<text transform="translate(443.00,434.60) scale(1.03,1)" text-anchor="middle" class="t">15</text>
<text x="365.05" y="442.85" text-anchor="middle" class="y">Years</text>
<text x="294.00" y="321.30" class="p">(H)</text>
<rect x="481.50" y="308.50" width="155.90" height="117.00" fill="#f7f7f7"/>
<path d="M481.50,425.50 L492.10,425.50 L492.10,396.40 L531.20,396.40 L531.20,367.50 L637.40,367.50 L637.40,425.50 L481.50,425.50 Z" fill="#d9d9d9" stroke="none"/>
<path d="M481.50,425.50 L492.10,425.50 L492.10,396.40 L531.20,396.40 L531.20,367.50 L637.40,367.50" fill="none" stroke="#333" stroke-width="0.9" stroke-linejoin="miter"/>
<line x1="481.50" y1="308.10" x2="481.50" y2="427.60" stroke="#3c3c3c" stroke-width="1.05"/>
<line x1="479.40" y1="425.50" x2="637.70" y2="425.50" stroke="#868686" stroke-width="1.05"/>
<text transform="translate(478.60,428.10) scale(0.82,1)" text-anchor="end" class="t">%</text>
<text transform="translate(473.09,428.10) scale(1.1,1)" text-anchor="end" class="t">0</text>
<line x1="479.40" y1="402.10" x2="481.50" y2="402.10" stroke="#3c3c3c" stroke-width="0.9"/>
<text transform="translate(478.60,404.70) scale(0.82,1)" text-anchor="end" class="t">%</text>
<text transform="translate(473.09,404.70) scale(1.1,1)" text-anchor="end" class="t">20</text>
<line x1="479.40" y1="378.70" x2="481.50" y2="378.70" stroke="#3c3c3c" stroke-width="0.9"/>
<text transform="translate(478.60,381.30) scale(0.82,1)" text-anchor="end" class="t">%</text>
<text transform="translate(473.09,381.30) scale(1.1,1)" text-anchor="end" class="t">40</text>
<line x1="479.40" y1="355.30" x2="481.50" y2="355.30" stroke="#3c3c3c" stroke-width="0.9"/>
<text transform="translate(478.60,357.90) scale(0.82,1)" text-anchor="end" class="t">%</text>
<text transform="translate(473.09,357.90) scale(1.1,1)" text-anchor="end" class="t">60</text>
<line x1="479.40" y1="331.90" x2="481.50" y2="331.90" stroke="#3c3c3c" stroke-width="0.9"/>
<text transform="translate(478.60,334.50) scale(0.82,1)" text-anchor="end" class="t">%</text>
<text transform="translate(473.09,334.50) scale(1.1,1)" text-anchor="end" class="t">80</text>
<line x1="479.40" y1="308.50" x2="481.50" y2="308.50" stroke="#3c3c3c" stroke-width="0.9"/>
<text transform="translate(478.60,311.10) scale(0.82,1)" text-anchor="end" class="t">%</text>
<text transform="translate(473.09,311.10) scale(1.1,1)" text-anchor="end" class="t">100</text>
<text transform="translate(481.50,434.60) scale(1.03,1)" text-anchor="middle" class="t">0</text>
<line x1="533.47" y1="425.50" x2="533.47" y2="427.60" stroke="#3c3c3c" stroke-width="0.9"/>
<text transform="translate(533.47,434.60) scale(1.03,1)" text-anchor="middle" class="t">5</text>
<line x1="585.43" y1="425.50" x2="585.43" y2="427.60" stroke="#3c3c3c" stroke-width="0.9"/>
<text transform="translate(585.43,434.60) scale(1.03,1)" text-anchor="middle" class="t">10</text>
<line x1="637.40" y1="425.50" x2="637.40" y2="427.60" stroke="#3c3c3c" stroke-width="0.9"/>
<text transform="translate(637.40,434.60) scale(1.03,1)" text-anchor="middle" class="t">15</text>
<text x="559.45" y="442.85" text-anchor="middle" class="y">Years</text>
<text x="488.40" y="321.30" class="p">(I)</text>
<line x1="69.9" y1="0" x2="69.9" y2="448.8" stroke="#111" stroke-width="1.4"/>
<line x1="69.2" y1="448.1" x2="656" y2="448.1" stroke="#111" stroke-width="1.4"/>
<line x1="63.2" y1="75.6" x2="69.9" y2="75.6" stroke="#111" stroke-width="1.3"/>
<line x1="63.2" y1="224.3" x2="69.9" y2="224.3" stroke="#111" stroke-width="1.3"/>
<line x1="63.2" y1="372.9" x2="69.9" y2="372.9" stroke="#111" stroke-width="1.3"/>
<line x1="165.8" y1="448.1" x2="165.8" y2="454.3" stroke="#111" stroke-width="1.3"/>
<line x1="353.3" y1="448.1" x2="353.3" y2="454.3" stroke="#111" stroke-width="1.3"/>
<line x1="547.5" y1="448.1" x2="547.5" y2="454.3" stroke="#111" stroke-width="1.3"/>
<text x="3.5" y="15.4" class="b">TNM stage</text>
<text x="30.6" y="79.8" text-anchor="middle" class="b">I</text>
<text x="30.7" y="228.7" text-anchor="middle" class="b">II</text>
<text x="30.5" y="377.0" text-anchor="middle" class="b">III/IV</text>
<text x="0.0" y="469.9" class="b">Comorbidity</text>
<text x="166.5" y="469.5" text-anchor="middle" class="b">None/Low</text>
<text x="353.6" y="469.5" text-anchor="middle" class="b">Moderate</text>
<text x="547.7" y="469.5" text-anchor="middle" class="b">Severe</text>
<rect x="183.0" y="484.6" width="14.4" height="14.4" fill="#5d5d5d"/>
<text x="201.6" y="495.5" class="b">Death from DTC</text>
<rect x="303.4" y="484.6" width="14.5" height="14.4" fill="#d9d9d9"/>
<text x="321.7" y="495.5" class="b">Death from other causes</text>
<rect x="459.3" y="484.6" width="14.2" height="14.4" fill="#f7f7f7"/>
<text x="476.9" y="495.5" class="b">Survival</text>
</svg>
</body></html>
